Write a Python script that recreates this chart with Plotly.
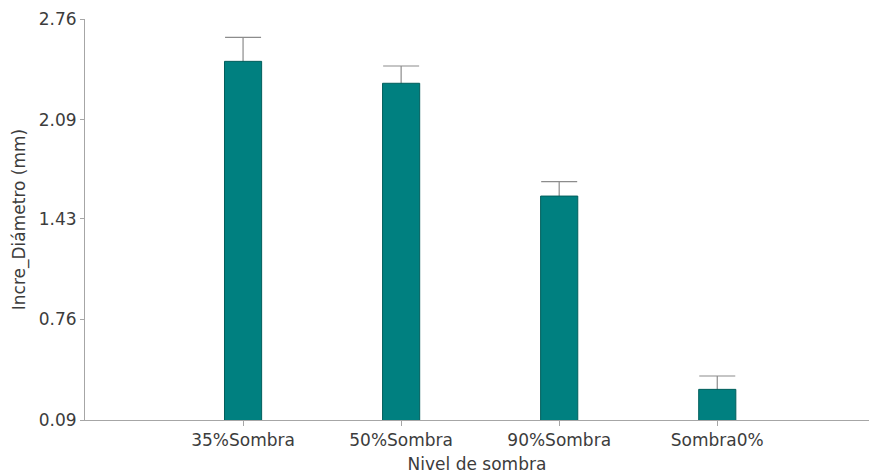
import plotly.graph_objects as go

# Diameter increment by shade level (mean and standard error)
categories = ["35%Sombra", "50%Sombra", "90%Sombra", "Sombra0%"]
means = [2.478, 2.332, 1.581, 0.294]
errors = [0.160, 0.115, 0.096, 0.089]
y_ticks = [0.09, 0.76, 1.43, 2.09, 2.76]

font_family = "DejaVu Sans"
text_color = "#3c3c3c"
axis_color = "#a6a6a6"
positions = list(range(len(categories)))
bar_width = 0.235

fig = go.Figure()

# Error whiskers sit on a transparent bar layer underneath, so the solid
# bars drawn next hide the lower half and only the upper whisker shows.
fig.add_trace(
    go.Bar(
        x=positions,
        y=means,
        width=bar_width,
        marker=dict(color="rgba(0,0,0,0)", line=dict(width=0)),
        error_y=dict(
            type="data",
            array=errors,
            color="#8c8c8c",
            thickness=1.2,
            width=18,
        ),
        hoverinfo="skip",
    )
)

fig.add_trace(
    go.Bar(
        x=positions,
        y=means,
        width=bar_width,
        marker=dict(color="#008080", line=dict(color="#005e5c", width=1)),
    )
)

fig.update_layout(
    width=869,
    height=476,
    margin=dict(l=85, r=0, t=19, b=56),
    paper_bgcolor="white",
    plot_bgcolor="white",
    showlegend=False,
    barmode="overlay",
    font=dict(family=font_family, size=17, color=text_color),
)

fig.update_xaxes(
    tickmode="array",
    tickvals=positions,
    ticktext=categories,
    range=[-1.0, 3.96],
    showgrid=False,
    zeroline=False,
    showline=True,
    linecolor=axis_color,
    linewidth=1,
    ticks="outside",
    ticklen=5,
    tickcolor=axis_color,
    tickfont=dict(size=17, color=text_color),
    title=dict(text="Nivel de sombra", font=dict(size=17, color=text_color), standoff=8),
)

fig.update_yaxes(
    tickmode="array",
    tickvals=y_ticks,
    ticktext=[f"{v:.2f}" for v in y_ticks],
    range=[0.09, 2.76],
    showgrid=False,
    zeroline=False,
    showline=True,
    linecolor=axis_color,
    linewidth=1,
    ticks="outside",
    ticklen=4,
    tickcolor=axis_color,
    tickfont=dict(size=17, color=text_color),
    title=dict(text="Incre_Diámetro (mm)", font=dict(size=17, color=text_color), standoff=8),
)

fig.write_html("out.html")
